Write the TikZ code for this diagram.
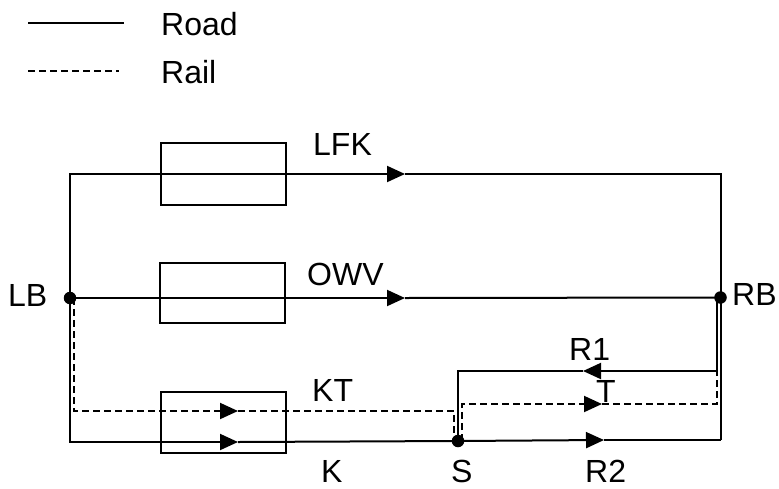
\documentclass[tikz,border=0pt]{standalone}
\usepackage{fontspec}
\setmainfont{Liberation Sans}
\usetikzlibrary{arrows.meta}
\tikzset{
  road/.style={line width=2pt},
  rail/.style={line width=2pt, dash pattern=on 7pt off 4pt},
  arrowtip/.style={-{Triangle[length=18pt,width=16pt]}},
  lbl/.style={font=\fontsize{32}{32}\selectfont, inner sep=0pt, anchor=base west},
  boxnode/.style={draw, line width=2pt, minimum width=125pt, inner sep=0pt},
  dot/.style={circle, fill, inner sep=0pt, minimum size=12.5pt}
}
\begin{document}
\begin{tikzpicture}[x=1pt,y=-1pt]
\useasboundingbox (0,0) rectangle (779,488);
% legend
\coordinate (L1a) at (28,23); \coordinate (L1b) at (124,23);
\coordinate (L2a) at (28,71); \coordinate (L2b) at (119,71);
\draw[road] (L1a) -- (L1b);
\draw[rail] (L2a) -- (L2b);
\node[lbl] (road) at (161,35) {Road};
\node[lbl] (rail) at (161,83) {Rail};
% boxes
\node[boxnode, minimum height=62pt] (box1) at (223.5,174) {};
\node[boxnode, minimum height=60pt] (box2) at (222.5,293) {};
\node[boxnode, minimum height=61pt] (box3) at (223.5,422.5) {};
% dots
\node[dot] (LB) at (70,298) {};
\node[dot] (RB) at (720.5,297.5) {};
\node[dot] (S) at (458,441) {};
% corners
\coordinate (TL) at (70,174); \coordinate (TR) at (720.5,174);
\coordinate (BL) at (70,442); \coordinate (BR) at (720.5,440);
\coordinate (R1t) at (717,298); \coordinate (R1a) at (717,371); \coordinate (R1b) at (458,371);
\coordinate (LBr) at (74,298); \coordinate (KTa) at (74,411); \coordinate (KTb) at (454,411); \coordinate (KTs) at (454,441);
\coordinate (Ts) at (462,441); \coordinate (Ta) at (462,404); \coordinate (Tb) at (717,404); \coordinate (Tr) at (717,298);
% arrow tips
\coordinate (aLFK) at (405,174);
\coordinate (aOWV) at (405,298);
\coordinate (aKT) at (238,411);
\coordinate (aK) at (238,442);
\coordinate (aR1) at (583,371);
\coordinate (aT) at (602,404);
\coordinate (aR2) at (604,440);
% roads
\draw[road,arrowtip] (LB.center) -- (TL) -- (aLFK);
\draw[road] (aLFK) -- (TR) -- (BR);
\draw[road,arrowtip] (LB.center) -- (aOWV);
\draw[road] (aOWV) -- (RB.center);
\draw[road,arrowtip] (LB.center) -- (BL) -- (aK);
\draw[road] (aK) -- (S.center);
\draw[road,arrowtip] (S.center) -- (aR2);
\draw[road] (aR2) -- (BR);
\draw[road,arrowtip] (R1t) -- (R1a) -- (aR1);
\draw[road] (aR1) -- (R1b) -- (S.center);
% rails
\draw[rail,arrowtip] (LBr) -- (KTa) -- (aKT);
\draw[rail] (aKT) -- (KTb) -- (KTs);
\draw[rail,arrowtip] (Ts) -- (Ta) -- (aT);
\draw[rail] (aT) -- (Tb) -- (Tr);
% labels
\node[lbl] (lLFK) at (313,155) {LFK};
\node[lbl] (lOWV) at (307,285) {OWV};
\node[lbl] (lKT) at (312,401) {KT};
\node[lbl] (lT) at (596,402) {T};
\node[lbl] (lR1) at (569,360) {R1};
\node[lbl] (lRB) at (732,305) {RB};
\node[lbl] (lLB) at (8,306) {LB};
\node[lbl] (lK) at (321,482) {K};
\node[lbl] (lS) at (451,482) {S};
\node[lbl] (lR2) at (585,482) {R2};
\end{tikzpicture}
\end{document}
